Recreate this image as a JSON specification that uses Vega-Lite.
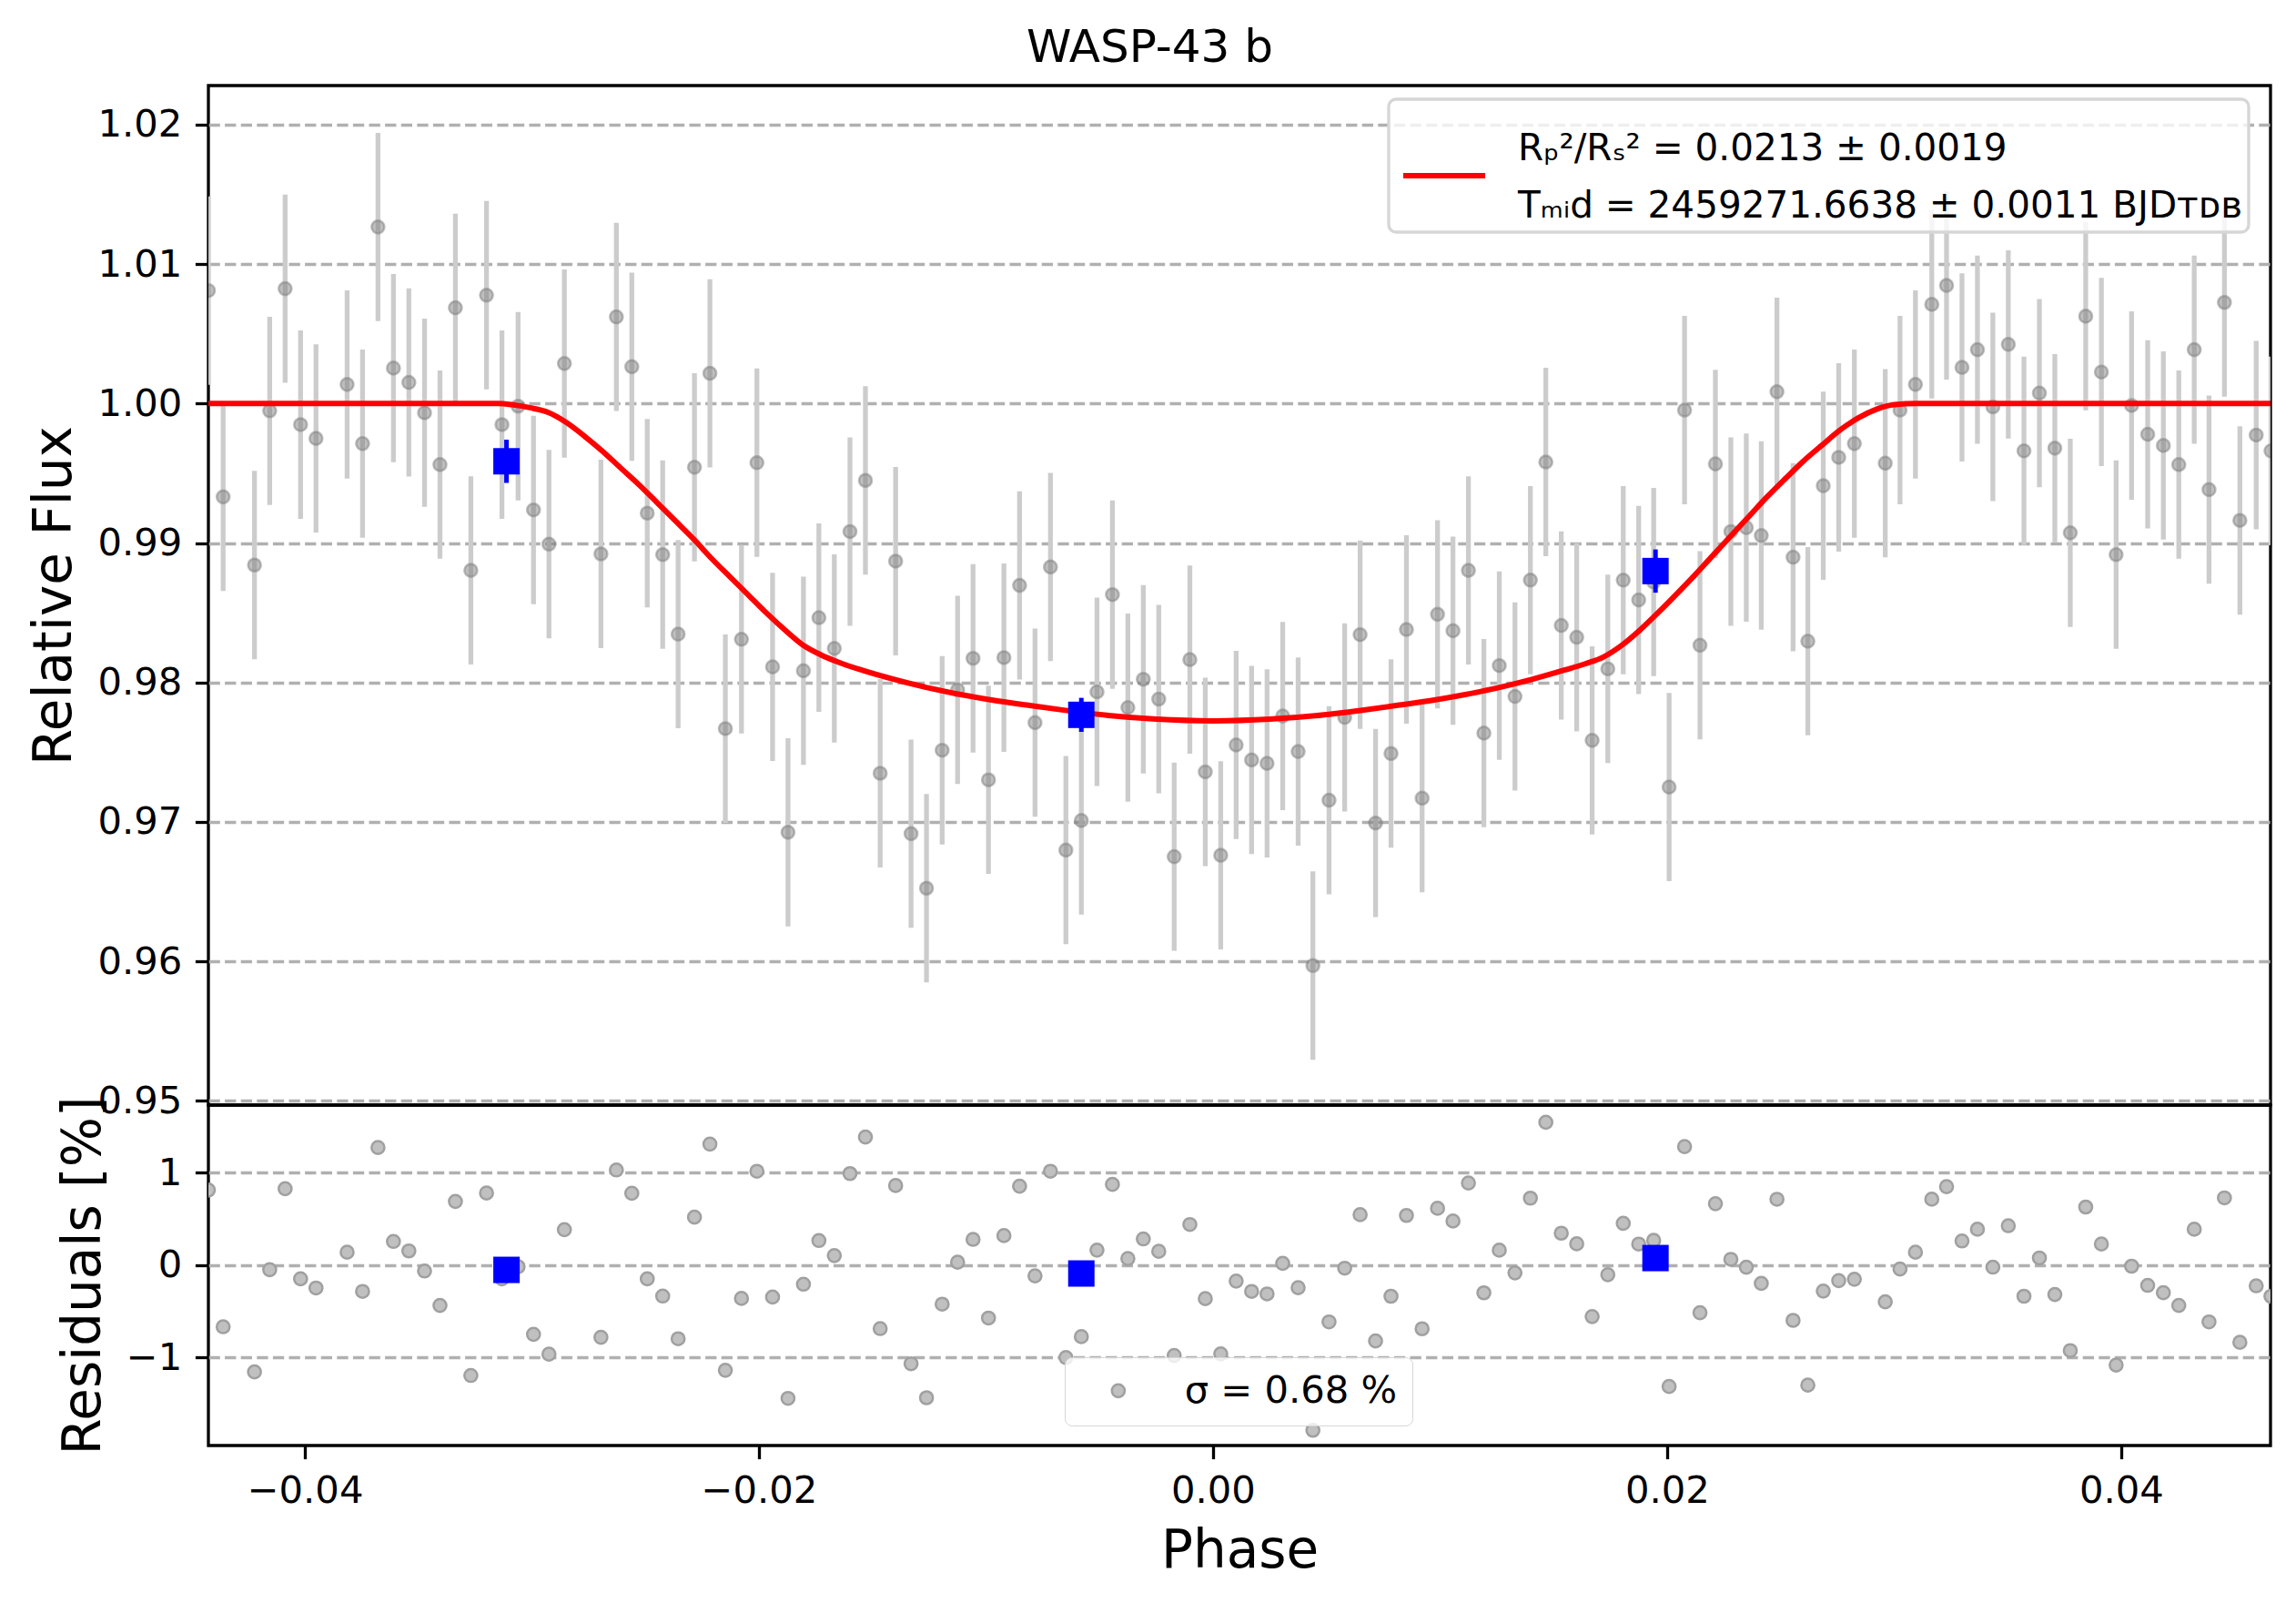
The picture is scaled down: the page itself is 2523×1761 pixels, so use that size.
{
  "$schema": "https://vega.github.io/schema/vega-lite/v6.json",
  "padding": {"left": 30, "top": 28, "right": 0, "bottom": 29},
  "bounds": "flush",
  "spacing": 0,
  "title": {"text": "WASP-43 b", "fontSize": 50, "font": "DejaVu Sans", "fontWeight": "normal", "color": "black", "anchor": "middle", "offset": 14},
  "datasets": {
    "obs": [
      {"phase": -0.04425, "flux": 1.0081, "err": 0.00675, "resid": 0.81},
      {"phase": -0.0436, "flux": 0.99331, "err": 0.00675, "resid": -0.669},
      {"phase": -0.04222, "flux": 0.98842, "err": 0.00675, "resid": -1.158},
      {"phase": -0.04155, "flux": 0.99948, "err": 0.00675, "resid": -0.052},
      {"phase": -0.04087, "flux": 1.00824, "err": 0.00675, "resid": 0.824},
      {"phase": -0.04019, "flux": 0.99849, "err": 0.00675, "resid": -0.151},
      {"phase": -0.03951, "flux": 0.9975, "err": 0.00675, "resid": -0.25},
      {"phase": -0.03814, "flux": 1.00137, "err": 0.00675, "resid": 0.137},
      {"phase": -0.03746, "flux": 0.99713, "err": 0.00675, "resid": -0.287},
      {"phase": -0.03678, "flux": 1.01266, "err": 0.00675, "resid": 1.27},
      {"phase": -0.0361, "flux": 1.00254, "err": 0.00675, "resid": 0.254},
      {"phase": -0.03542, "flux": 1.00151, "err": 0.00675, "resid": 0.151},
      {"phase": -0.03473, "flux": 0.99934, "err": 0.00675, "resid": -0.066},
      {"phase": -0.03405, "flux": 0.99562, "err": 0.00675, "resid": -0.438},
      {"phase": -0.03337, "flux": 1.00687, "err": 0.00675, "resid": 0.687},
      {"phase": -0.03269, "flux": 0.98804, "err": 0.00675, "resid": -1.196},
      {"phase": -0.032, "flux": 1.00777, "err": 0.00675, "resid": 0.777},
      {"phase": -0.03132, "flux": 0.99849, "err": 0.00675, "resid": -0.151},
      {"phase": -0.03061, "flux": 0.99981, "err": 0.00675, "resid": -0.019},
      {"phase": -0.02993, "flux": 0.99237, "err": 0.00675, "resid": -0.751},
      {"phase": -0.02925, "flux": 0.98992, "err": 0.00675, "resid": -0.965},
      {"phase": -0.02857, "flux": 1.00287, "err": 0.00675, "resid": 0.381},
      {"phase": -0.02696, "flux": 0.98922, "err": 0.00675, "resid": -0.783},
      {"phase": -0.02628, "flux": 1.00621, "err": 0.00675, "resid": 1.027},
      {"phase": -0.0256, "flux": 1.00264, "err": 0.00675, "resid": 0.775},
      {"phase": -0.02492, "flux": 0.99214, "err": 0.00675, "resid": -0.151},
      {"phase": -0.02424, "flux": 0.98917, "err": 0.00675, "resid": -0.337},
      {"phase": -0.02356, "flux": 0.98347, "err": 0.00675, "resid": -0.799},
      {"phase": -0.02284, "flux": 0.99543, "err": 0.00675, "resid": 0.516},
      {"phase": -0.02216, "flux": 1.00217, "err": 0.00675, "resid": 1.307},
      {"phase": -0.02148, "flux": 0.97669, "err": 0.00675, "resid": -1.14},
      {"phase": -0.02077, "flux": 0.9831, "err": 0.00675, "resid": -0.363},
      {"phase": -0.02009, "flux": 0.99576, "err": 0.00675, "resid": 1.013},
      {"phase": -0.0194, "flux": 0.98112, "err": 0.00675, "resid": -0.348},
      {"phase": -0.01872, "flux": 0.96926, "err": 0.00675, "resid": -1.444},
      {"phase": -0.01804, "flux": 0.98084, "err": 0.00675, "resid": -0.209},
      {"phase": -0.01736, "flux": 0.98465, "err": 0.00675, "resid": 0.264},
      {"phase": -0.01668, "flux": 0.98244, "err": 0.00675, "resid": 0.101},
      {"phase": -0.01599, "flux": 0.99082, "err": 0.00675, "resid": 0.988},
      {"phase": -0.01531, "flux": 0.99449, "err": 0.00675, "resid": 1.383},
      {"phase": -0.01466, "flux": 0.97349, "err": 0.00675, "resid": -0.689},
      {"phase": -0.01398, "flux": 0.9887, "err": 0.00675, "resid": 0.858},
      {"phase": -0.0133, "flux": 0.96916, "err": 0.00675, "resid": -1.07},
      {"phase": -0.01262, "flux": 0.96525, "err": 0.00675, "resid": -1.437},
      {"phase": -0.01193, "flux": 0.97514, "err": 0.00675, "resid": -0.425},
      {"phase": -0.01125, "flux": 0.97947, "err": 0.00675, "resid": 0.029},
      {"phase": -0.01057, "flux": 0.98173, "err": 0.00675, "resid": 0.276},
      {"phase": -0.00989, "flux": 0.97302, "err": 0.00675, "resid": -0.575},
      {"phase": -0.00921, "flux": 0.98178, "err": 0.00675, "resid": 0.317},
      {"phase": -0.00852, "flux": 0.98696, "err": 0.00675, "resid": 0.851},
      {"phase": -0.00784, "flux": 0.97712, "err": 0.00675, "resid": -0.118},
      {"phase": -0.00716, "flux": 0.98828, "err": 0.00675, "resid": 1.013},
      {"phase": -0.00648, "flux": 0.96798, "err": 0.00675, "resid": -1.002},
      {"phase": -0.0058, "flux": 0.9701, "err": 0.00675, "resid": -0.776},
      {"phase": -0.00511, "flux": 0.97933, "err": 0.00675, "resid": 0.16},
      {"phase": -0.00443, "flux": 0.9863, "err": 0.00675, "resid": 0.871},
      {"phase": -0.00375, "flux": 0.9782, "err": 0.00675, "resid": 0.069},
      {"phase": -0.00307, "flux": 0.98023, "err": 0.00675, "resid": 0.281},
      {"phase": -0.00239, "flux": 0.97881, "err": 0.00675, "resid": 0.147},
      {"phase": -0.00171, "flux": 0.96751, "err": 0.00675, "resid": -0.98},
      {"phase": -0.00102, "flux": 0.98164, "err": 0.00675, "resid": 0.437},
      {"phase": -0.00034, "flux": 0.97359, "err": 0.00675, "resid": -0.365},
      {"phase": 0.00034, "flux": 0.96761, "err": 0.00675, "resid": -0.963},
      {"phase": 0.00102, "flux": 0.97552, "err": 0.00675, "resid": -0.175},
      {"phase": 0.0017, "flux": 0.97444, "err": 0.00675, "resid": -0.287},
      {"phase": 0.00238, "flux": 0.9742, "err": 0.00675, "resid": -0.314},
      {"phase": 0.00307, "flux": 0.97759, "err": 0.00675, "resid": 0.017},
      {"phase": 0.00375, "flux": 0.97505, "err": 0.00675, "resid": -0.246},
      {"phase": 0.0044, "flux": 0.9597, "err": 0.00675, "resid": -1.789},
      {"phase": 0.00511, "flux": 0.97156, "err": 0.00675, "resid": -0.617},
      {"phase": 0.0058, "flux": 0.9775, "err": 0.00675, "resid": -0.036},
      {"phase": 0.00648, "flux": 0.98343, "err": 0.00675, "resid": 0.543},
      {"phase": 0.00716, "flux": 0.96992, "err": 0.00675, "resid": -0.823},
      {"phase": 0.00784, "flux": 0.97491, "err": 0.00675, "resid": -0.339},
      {"phase": 0.00852, "flux": 0.9838, "err": 0.00675, "resid": 0.535},
      {"phase": 0.00921, "flux": 0.9717, "err": 0.00675, "resid": -0.691},
      {"phase": 0.00989, "flux": 0.98489, "err": 0.00675, "resid": 0.612},
      {"phase": 0.01057, "flux": 0.98371, "err": 0.00675, "resid": 0.474},
      {"phase": 0.01125, "flux": 0.98804, "err": 0.00675, "resid": 0.886},
      {"phase": 0.01193, "flux": 0.97637, "err": 0.00675, "resid": -0.302},
      {"phase": 0.01261, "flux": 0.98121, "err": 0.00675, "resid": 0.159},
      {"phase": 0.0133, "flux": 0.979, "err": 0.00675, "resid": -0.086},
      {"phase": 0.01398, "flux": 0.98734, "err": 0.00675, "resid": 0.722},
      {"phase": 0.01466, "flux": 0.99581, "err": 0.00675, "resid": 1.543},
      {"phase": 0.01534, "flux": 0.98409, "err": 0.00675, "resid": 0.343},
      {"phase": 0.01602, "flux": 0.98324, "err": 0.00675, "resid": 0.228},
      {"phase": 0.0167, "flux": 0.97585, "err": 0.00675, "resid": -0.559},
      {"phase": 0.01739, "flux": 0.98098, "err": 0.00675, "resid": -0.106},
      {"phase": 0.01807, "flux": 0.98734, "err": 0.00675, "resid": 0.45},
      {"phase": 0.01875, "flux": 0.98592, "err": 0.00675, "resid": 0.225},
      {"phase": 0.01941, "flux": 0.9872, "err": 0.00675, "resid": 0.265},
      {"phase": 0.02009, "flux": 0.9725, "err": 0.00675, "resid": -1.315},
      {"phase": 0.02077, "flux": 0.99953, "err": 0.00675, "resid": 1.28},
      {"phase": 0.02145, "flux": 0.98267, "err": 0.00675, "resid": -0.518},
      {"phase": 0.02213, "flux": 0.99567, "err": 0.00675, "resid": 0.662},
      {"phase": 0.02281, "flux": 0.99082, "err": 0.00675, "resid": 0.06},
      {"phase": 0.02349, "flux": 0.9911, "err": 0.00675, "resid": -0.025},
      {"phase": 0.02415, "flux": 0.99054, "err": 0.00675, "resid": -0.2},
      {"phase": 0.02484, "flux": 1.00085, "err": 0.00675, "resid": 0.71},
      {"phase": 0.02555, "flux": 0.98898, "err": 0.00675, "resid": -0.6},
      {"phase": 0.0262, "flux": 0.98296, "err": 0.00675, "resid": -1.3},
      {"phase": 0.02688, "flux": 0.99411, "err": 0.00675, "resid": -0.283},
      {"phase": 0.02756, "flux": 0.99614, "err": 0.00675, "resid": -0.17},
      {"phase": 0.02825, "flux": 0.99713, "err": 0.00675, "resid": -0.155},
      {"phase": 0.02961, "flux": 0.99572, "err": 0.00675, "resid": -0.4},
      {"phase": 0.03026, "flux": 0.99953, "err": 0.00675, "resid": -0.045},
      {"phase": 0.03094, "flux": 1.00137, "err": 0.00675, "resid": 0.137},
      {"phase": 0.03166, "flux": 1.00711, "err": 0.00675, "resid": 0.711},
      {"phase": 0.03231, "flux": 1.00847, "err": 0.00675, "resid": 0.847},
      {"phase": 0.03299, "flux": 1.00259, "err": 0.00675, "resid": 0.259},
      {"phase": 0.03367, "flux": 1.00386, "err": 0.00675, "resid": 0.386},
      {"phase": 0.03435, "flux": 0.99976, "err": 0.00675, "resid": -0.024},
      {"phase": 0.03503, "flux": 1.00424, "err": 0.00675, "resid": 0.424},
      {"phase": 0.03572, "flux": 0.99661, "err": 0.00675, "resid": -0.339},
      {"phase": 0.0364, "flux": 1.00075, "err": 0.00675, "resid": 0.075},
      {"phase": 0.03708, "flux": 0.9968, "err": 0.00675, "resid": -0.32},
      {"phase": 0.03776, "flux": 0.99073, "err": 0.00675, "resid": -0.927},
      {"phase": 0.03844, "flux": 1.00626, "err": 0.00675, "resid": 0.626},
      {"phase": 0.03913, "flux": 1.00226, "err": 0.00675, "resid": 0.226},
      {"phase": 0.03978, "flux": 0.98917, "err": 0.00675, "resid": -1.083},
      {"phase": 0.04046, "flux": 0.99986, "err": 0.00675, "resid": -0.014},
      {"phase": 0.04117, "flux": 0.99779, "err": 0.00675, "resid": -0.221},
      {"phase": 0.04186, "flux": 0.99699, "err": 0.00675, "resid": -0.301},
      {"phase": 0.04254, "flux": 0.99562, "err": 0.00675, "resid": -0.438},
      {"phase": 0.04322, "flux": 1.00386, "err": 0.00675, "resid": 0.386},
      {"phase": 0.04387, "flux": 0.99383, "err": 0.00675, "resid": -0.617},
      {"phase": 0.04455, "flux": 1.00725, "err": 0.00675, "resid": 0.725},
      {"phase": 0.04523, "flux": 0.99162, "err": 0.00675, "resid": -0.838},
      {"phase": 0.04595, "flux": 0.99774, "err": 0.00675, "resid": -0.226},
      {"phase": 0.0466, "flux": 0.99661, "err": 0.00675, "resid": -0.339}
    ],
    "model": [
      {"phase": -0.04425, "flux": 1.0},
      {"phase": -0.0315, "flux": 1.0},
      {"phase": -0.03089, "flux": 0.99992},
      {"phase": -0.03009, "flux": 0.9997},
      {"phase": -0.02929, "flux": 0.99937},
      {"phase": -0.02849, "flux": 0.99865},
      {"phase": -0.02769, "flux": 0.99767},
      {"phase": -0.02689, "flux": 0.99658},
      {"phase": -0.02609, "flux": 0.99538},
      {"phase": -0.02529, "flux": 0.99419},
      {"phase": -0.02448, "flux": 0.99289},
      {"phase": -0.02368, "flux": 0.99159},
      {"phase": -0.02288, "flux": 0.99029},
      {"phase": -0.02208, "flux": 0.98888},
      {"phase": -0.02128, "flux": 0.98758},
      {"phase": -0.02047, "flux": 0.98628},
      {"phase": -0.01967, "flux": 0.98498},
      {"phase": -0.01887, "flux": 0.98378},
      {"phase": -0.01807, "flux": 0.98269},
      {"phase": -0.01727, "flux": 0.98198},
      {"phase": -0.01647, "flux": 0.98144},
      {"phase": -0.0155, "flux": 0.9809},
      {"phase": -0.014, "flux": 0.9802},
      {"phase": -0.0125, "flux": 0.9796},
      {"phase": -0.011, "flux": 0.9791},
      {"phase": -0.0095, "flux": 0.97868},
      {"phase": -0.008, "flux": 0.97833},
      {"phase": -0.0065, "flux": 0.978},
      {"phase": -0.0045, "flux": 0.97762},
      {"phase": -0.0025, "flux": 0.97737},
      {"phase": 0.0, "flux": 0.97725},
      {"phase": 0.0025, "flux": 0.97737},
      {"phase": 0.0045, "flux": 0.97762},
      {"phase": 0.0065, "flux": 0.978},
      {"phase": 0.008, "flux": 0.97833},
      {"phase": 0.0095, "flux": 0.97868},
      {"phase": 0.011, "flux": 0.9791},
      {"phase": 0.0125, "flux": 0.9796},
      {"phase": 0.014, "flux": 0.9802},
      {"phase": 0.0155, "flux": 0.9809},
      {"phase": 0.01639, "flux": 0.98134},
      {"phase": 0.01719, "flux": 0.98182},
      {"phase": 0.01799, "flux": 0.98265},
      {"phase": 0.01879, "flux": 0.98374},
      {"phase": 0.0196, "flux": 0.985},
      {"phase": 0.0204, "flux": 0.98631},
      {"phase": 0.0212, "flux": 0.98766},
      {"phase": 0.022, "flux": 0.98908},
      {"phase": 0.0228, "flux": 0.99049},
      {"phase": 0.0236, "flux": 0.9919},
      {"phase": 0.02441, "flux": 0.99332},
      {"phase": 0.02521, "flux": 0.99462},
      {"phase": 0.02601, "flux": 0.99588},
      {"phase": 0.02682, "flux": 0.99701},
      {"phase": 0.02762, "flux": 0.9981},
      {"phase": 0.02842, "flux": 0.99897},
      {"phase": 0.02922, "flux": 0.99959},
      {"phase": 0.03002, "flux": 0.99992},
      {"phase": 0.031, "flux": 1.0},
      {"phase": 0.04658, "flux": 1.0}
    ],
    "binned": [
      {"phase": -0.03112, "flux": 0.99586, "err": 0.00155, "resid": -0.054},
      {"phase": -0.0058, "flux": 0.97768, "err": 0.00122, "resid": -0.093},
      {"phase": 0.01949, "flux": 0.98799, "err": 0.00155, "resid": 0.074}
    ]
  },
  "resolve": {"scale": {"color": "independent"}, "legend": {"color": "independent"}},
  "vconcat": [
    {
      "width": 2266,
      "height": 1120,
      "layer": [
        {
          "data": {"name": "obs"},
          "mark": {"type": "errorbar", "color": "#cccccc", "thickness": 5.3, "clip": true},
          "encoding": {
            "x": {"field": "phase", "type": "quantitative", "scale": {"domain": [-0.04425, 0.04658], "nice": false, "zero": false}, "axis": null},
            "y": {"field": "flux", "type": "quantitative", "scale": {"domain": [0.9497, 1.0228], "nice": false, "zero": false}, "title": "Relative Flux",
                  "axis": {"values": [0.95, 0.96, 0.97, 0.98, 0.99, 1.0, 1.01, 1.02], "format": ".2f", "grid": true, "titlePadding": 17}},
            "yError": {"field": "err"}
          }
        },
        {
          "data": {"name": "obs"},
          "mark": {"type": "point", "shape": "circle", "filled": true, "size": 200, "fill": "#808080", "fillOpacity": 0.5, "stroke": "#808080", "strokeOpacity": 0.5, "strokeWidth": 2.5, "opacity": 1, "clip": true},
          "encoding": {
            "x": {"field": "phase", "type": "quantitative", "scale": {"domain": [-0.04425, 0.04658], "nice": false, "zero": false}, "axis": null},
            "y": {"field": "flux", "type": "quantitative", "scale": {"domain": [0.9497, 1.0228], "nice": false, "zero": false}, "title": "Relative Flux"}
          }
        },
        {
          "data": {"name": "model"},
          "mark": {"type": "line", "strokeWidth": 6, "interpolate": "monotone", "clip": true},
          "encoding": {
            "x": {"field": "phase", "type": "quantitative", "scale": {"domain": [-0.04425, 0.04658], "nice": false, "zero": false}, "axis": null},
            "y": {"field": "flux", "type": "quantitative", "scale": {"domain": [0.9497, 1.0228], "nice": false, "zero": false}, "title": "Relative Flux"},
            "color": {
              "datum": "Rₚ²/Rₛ² = 0.0213 ± 0.0019",
              "type": "nominal",
              "scale": {"range": ["#ff0000"]},
              "legend": {
                "orient": "none", "legendX": 1297, "legendY": 15, "title": null,
                "symbolType": "stroke", "symbolSize": 8100, "symbolStrokeWidth": 6, "symbolStrokeColor": "#ff0000",
                "labelFont": "DejaVu Sans", "labelFontSize": 40.5, "labelColor": "black", "labelLimit": 0, "labelOffset": 33,
                "padding": 7, "symbolOffset": 6,
                "fillColor": "rgba(255,255,255,0.8)", "strokeColor": "#d6d6d6", "cornerRadius": 8,
                "labelExpr": "[datum.label, 'Tₘᵢd = 2459271.6638 ± 0.0011 BJDᴛᴅʙ']",
                "encode": {
                  "labels": {"update": {"lineHeight": {"value": 63}}},
                  "symbols": {"update": {"y": {"value": 77}}},
                  "legend": {"update": {"strokeWidth": {"value": 3.3}}}
                }
              }
            }
          }
        },
        {
          "data": {"name": "binned"},
          "mark": {"type": "errorbar", "color": "#0000ff", "thickness": 5, "clip": true},
          "encoding": {
            "x": {"field": "phase", "type": "quantitative", "scale": {"domain": [-0.04425, 0.04658], "nice": false, "zero": false}, "axis": null},
            "y": {"field": "flux", "type": "quantitative", "scale": {"domain": [0.9497, 1.0228], "nice": false, "zero": false}, "title": "Relative Flux"},
            "yError": {"field": "err"}
          }
        },
        {
          "data": {"name": "binned"},
          "mark": {"type": "point", "shape": "square", "filled": true, "size": 841, "color": "#0000ff", "opacity": 1, "clip": true},
          "encoding": {
            "x": {"field": "phase", "type": "quantitative", "scale": {"domain": [-0.04425, 0.04658], "nice": false, "zero": false}, "axis": null},
            "y": {"field": "flux", "type": "quantitative", "scale": {"domain": [0.9497, 1.0228], "nice": false, "zero": false}, "title": "Relative Flux"}
          }
        }
      ]
    },
    {
      "width": 2266,
      "height": 374,
      "layer": [
        {
          "data": {"name": "obs"},
          "mark": {"type": "point", "shape": "circle", "filled": true, "size": 200, "stroke": "#a0a0a0", "strokeWidth": 2.5, "opacity": 1, "clip": true},
          "encoding": {
            "x": {"field": "phase", "type": "quantitative", "scale": {"domain": [-0.04425, 0.04658], "nice": false, "zero": false}, "title": "Phase",
                  "axis": {"values": [-0.04, -0.02, 0.0, 0.02, 0.04], "format": ".2f", "grid": false, "titlePadding": 17}},
            "y": {"field": "resid", "type": "quantitative", "scale": {"domain": [-1.954, 1.729], "nice": false, "zero": false}, "title": "Residuals [%]",
                  "axis": {"values": [-1, 0, 1], "format": "d", "grid": true, "titlePadding": 17}},
            "color": {
              "datum": "σ = 0.68 %",
              "type": "nominal",
              "scale": {"range": ["#c0c0c0"]},
              "legend": {
                "orient": "none", "legendX": 941, "legendY": 277, "title": null,
                "symbolType": "circle", "symbolSize": 200, "symbolStrokeColor": "#a0a0a0", "symbolStrokeWidth": 2.5, "symbolFillColor": "#c0c0c0",
                "labelFont": "DejaVu Sans", "labelFontSize": 41.7, "labelColor": "black", "labelLimit": 0, "labelOffset": 52,
                "padding": 16, "symbolOffset": 22,
                "fillColor": "rgba(255,255,255,0.8)", "strokeColor": "#d6d6d6", "cornerRadius": 8,
                "encode": {"legend": {"update": {"strokeWidth": {"value": 3.3}}}}
              }
            }
          }
        },
        {
          "data": {"name": "binned"},
          "mark": {"type": "point", "shape": "square", "filled": true, "size": 841, "color": "#0000ff", "opacity": 1, "clip": true},
          "encoding": {
            "x": {"field": "phase", "type": "quantitative", "scale": {"domain": [-0.04425, 0.04658], "nice": false, "zero": false}, "title": "Phase"},
            "y": {"field": "resid", "type": "quantitative", "scale": {"domain": [-1.954, 1.729], "nice": false, "zero": false}, "title": "Residuals [%]"}
          }
        }
      ]
    }
  ],
  "config": {
    "font": "DejaVu Sans",
    "view": {"stroke": "black", "strokeWidth": 3.3},
    "axis": {
      "labelFont": "DejaVu Sans", "labelFontSize": 41.7, "labelColor": "black",
      "tickColor": "black", "tickWidth": 3.3, "tickSize": 14.6, "labelPadding": 14.6,
      "domain": false,
      "titleFont": "DejaVu Sans", "titleFontSize": 58, "titleFontWeight": "normal", "titleColor": "black",
      "gridColor": "#b0b0b0", "gridDash": [12.3, 5.3], "gridWidth": 3.3
    }
  }
}
